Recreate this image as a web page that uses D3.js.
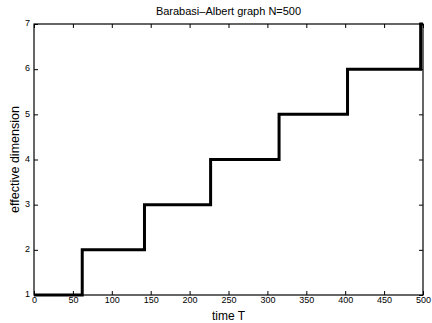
<!DOCTYPE html>
<html lang="en">
<head>
    <meta charset="UTF-8">
    <title>Barabasi-Albert graph N=500</title>
    <style>
        body { margin: 0; background: #fff; }
        text { font-family: "Liberation Sans", Arial, sans-serif; fill: #000; }
    </style>
</head>
<body>
    <div id="chart"></div>
    <script src="https://d3js.org/d3.v7.min.js"></script>
    <script>
        // step data: time at which the effective dimension changes
        const stepTimes = [0, 62, 142, 227, 315, 403, 497, 500];
        const dimensions = [1, 2, 3, 4, 5, 6, 7, 7];
        const xTicks = [0, 50, 100, 150, 200, 250, 300, 350, 400, 450, 500];
        const yTicks = [1, 2, 3, 4, 5, 6, 7];

        const width = 432, height = 323;
        const margin = { top: 24, right: 9, bottom: 28, left: 34 };
        const innerW = width - margin.left - margin.right;
        const innerH = height - margin.top - margin.bottom;

        const svg = d3.select("#chart").append("svg")
            .attr("width", width)
            .attr("height", height);

        const g = svg.append("g")
            .attr("transform", `translate(${margin.left},${margin.top})`);

        const x = d3.scaleLinear().domain([0, 500]).range([0, innerW]);
        const y = d3.scaleLinear().domain([1, 7]).range([innerH, 0]);

        // axes, matlab style: ticks pointing inward, box all round
        g.append("g")
            .attr("transform", `translate(0,${innerH})`)
            .call(d3.axisBottom(x).tickValues(xTicks).tickFormat(d3.format("d")).tickSizeInner(-4).tickSizeOuter(0).tickPadding(6))
            .call(a => a.select(".domain").remove());
        g.append("g")
            .call(d3.axisTop(x).tickValues(xTicks).tickSizeInner(-4).tickSizeOuter(0).tickFormat(""))
            .call(a => a.select(".domain").remove());
        g.append("g")
            .call(d3.axisLeft(y).tickValues(yTicks).tickFormat(d3.format("d")).tickSizeInner(-4).tickSizeOuter(0).tickPadding(4))
            .call(a => a.select(".domain").remove());
        g.append("g")
            .attr("transform", `translate(${innerW},0)`)
            .call(d3.axisRight(y).tickValues(yTicks).tickSizeInner(-4).tickSizeOuter(0).tickFormat(""))
            .call(a => a.select(".domain").remove());

        g.selectAll(".tick line").attr("stroke", "#000").attr("stroke-width", 1);
        g.selectAll(".tick text").style("font-size", "9px").attr("dy", "0.2em");

        g.append("rect")
            .attr("width", innerW)
            .attr("height", innerH)
            .attr("fill", "none")
            .attr("stroke", "#000")
            .attr("stroke-width", 1.2);

        const pts = stepTimes.map((t, i) => ({ t, d: dimensions[i] }));
        const line = d3.line()
            .x(p => x(p.t))
            .y(p => y(p.d))
            .curve(d3.curveStepAfter);

        g.append("path")
            .datum(pts)
            .attr("d", line)
            .attr("fill", "none")
            .attr("stroke", "#000")
            .attr("stroke-width", 3)
            .attr("stroke-linejoin", "miter");

        svg.append("text")
            .attr("x", margin.left + innerW / 2)
            .attr("y", 15)
            .attr("text-anchor", "middle")
            .style("font-size", "11px")
            .text("Barabasi\u2013Albert graph N=500");

        svg.append("text")
            .attr("x", margin.left + innerW / 2)
            .attr("y", 320)
            .attr("text-anchor", "middle")
            .style("font-size", "12px")
            .text("time T");

        svg.append("text")
            .attr("transform", `translate(19,${margin.top + innerH / 2}) rotate(-90)`)
            .attr("text-anchor", "middle")
            .style("font-size", "12.5px")
            .text("effective dimension");
    </script>
</body>
</html>
